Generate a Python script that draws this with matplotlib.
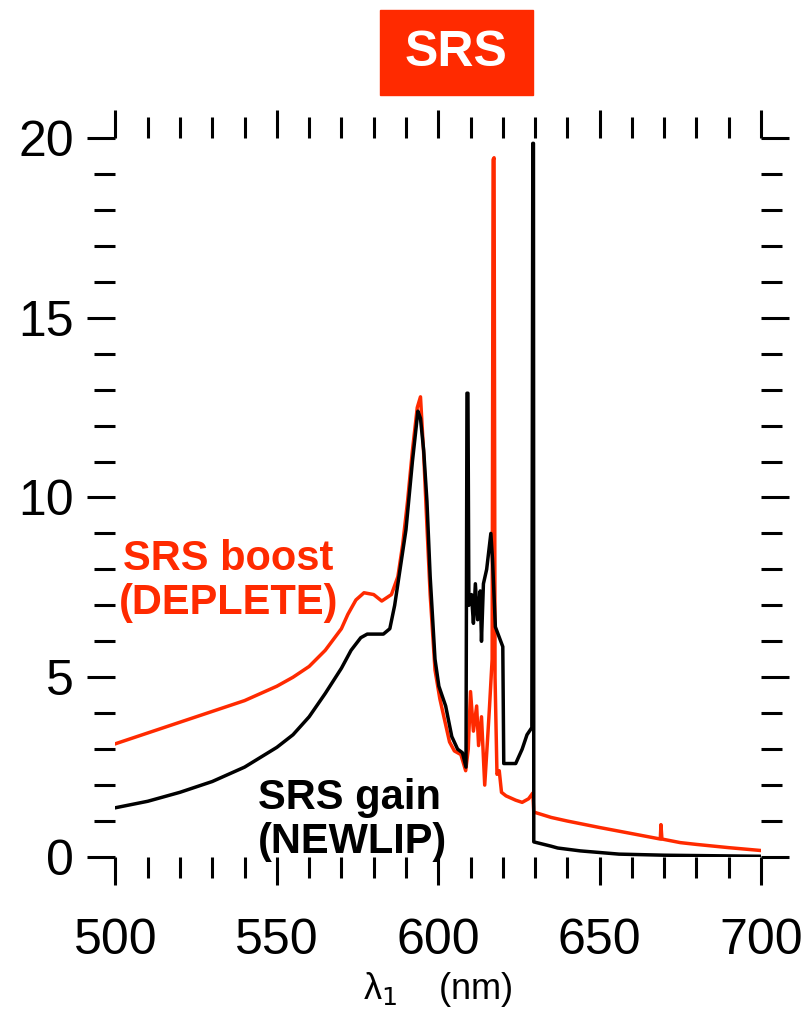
import numpy as np
import matplotlib.pyplot as plt
from matplotlib.patches import Rectangle
from matplotlib.ticker import MultipleLocator

plt.rcParams['font.family'] = ['Liberation Sans', 'DejaVu Sans']

RED = '#ff2a00'

# SRS boost (DEPLETE)
deplete_wl = [500, 510, 520, 530, 540, 550, 555, 560, 565, 570, 572, 574.5, 577, 580,
              582.5, 585.5, 587.5, 589, 590.5, 592, 593.5, 594.5, 595.5, 596.5, 597.5,
              599, 600.5, 602, 603.5, 605, 607, 608.5, 609.3, 610, 610.9, 611.9, 612.5,
              613.4, 614.4, 615.3, 615.9, 616.7, 617.0, 617.3, 617.6, 618.2, 618.9, 619.6,
              621, 624, 626, 628, 629.3, 629.6, 635, 640, 650, 660, 668.8, 669, 669.3,
              675, 680, 690, 700]
deplete_val = [3.15, 3.45, 3.75, 4.05, 4.35, 4.75, 5.0, 5.3, 5.75, 6.35, 6.75, 7.15, 7.35, 7.3,
               7.12, 7.3, 7.8, 8.7, 9.9, 11.3, 12.5, 12.8, 11.2, 9.2, 7.3,
               5.2, 4.4, 3.8, 3.2, 2.95, 2.85, 2.4, 3.0, 4.6, 3.5, 4.2, 3.1,
               3.9, 2.0, 3.3, 4.2, 5.5, 19.4, 19.45, 5.0, 2.3, 2.4, 1.8,
               1.7, 1.58, 1.52, 1.62, 1.78, 1.25, 1.1, 1.0, 0.82, 0.65, 0.5, 0.9, 0.5,
               0.4, 0.35, 0.26, 0.18]

# SRS gain (NEWLIP)
newlip_wl = [500, 510, 520, 530, 540, 550, 555, 560, 565, 570, 573, 576, 578, 583, 585,
             586.5, 588, 590, 592, 593.7, 594.5, 595.5, 596.5, 597.5, 599, 600.2, 602.3,
             604.2, 606, 607.5, 608.6, 608.9, 609.2, 609.5, 610.3, 610.9, 611.5, 612.2,
             613, 613.4, 614, 615, 616.3, 616.8, 617.7, 620.0, 620.3, 624, 626, 627.5,
             629, 629.3, 629.5, 629.6, 635, 637, 644, 656, 670, 690, 700]
newlip_val = [1.37, 1.55, 1.8, 2.1, 2.5, 3.05, 3.4, 3.9, 4.55, 5.25, 5.75, 6.1, 6.2, 6.2, 6.35,
              7.0, 7.9, 9.1, 11.0, 12.4, 12.2, 11.3, 9.9, 7.8, 5.5, 4.75, 4.2,
              3.35, 3.0, 2.9, 2.5, 12.9, 12.9, 7.0, 7.3, 6.5, 7.6, 6.6,
              7.4, 6.0, 7.6, 8.0, 9.0, 8.3, 6.4, 5.85, 2.6, 2.6, 3.0, 3.4,
              3.6, 19.85, 19.85, 0.42, 0.3, 0.25, 0.17, 0.08, 0.05, 0.03, 0.02]

fig = plt.figure(figsize=(8.12, 10.13), dpi=100)
ax = fig.add_axes([0.1422, 0.154, 0.795, 0.7098])

ax.plot(deplete_wl, deplete_val, color=RED, lw=2.5)
ax.plot(newlip_wl, newlip_val, color='black', lw=2.5)

ax.set_xlim(500, 700)
ax.set_ylim(0, 20)
ax.xaxis.set_major_locator(MultipleLocator(50))
ax.xaxis.set_minor_locator(MultipleLocator(10))
ax.yaxis.set_major_locator(MultipleLocator(5))
ax.yaxis.set_minor_locator(MultipleLocator(1))

for s in ax.spines.values():
    s.set_visible(False)

ax.tick_params(which='both', direction='out', top=True, right=True, width=2.2)
ax.tick_params(which='major', length=20, labelsize=36)
ax.tick_params(which='minor', length=15)
ax.tick_params(axis='x', which='major', pad=24)
ax.tick_params(axis='y', which='major', pad=10)

ax.set_xlabel('λ$_1$    (nm)', fontsize=26, labelpad=4)

# title box
fig.patches.append(Rectangle((0.468, 0.906), 0.188, 0.084, transform=fig.transFigure,
                             color=RED, zorder=0))
fig.text(0.5615, 0.948, 'SRS', ha='center', va='center', color='white',
         fontsize=36, fontweight='bold')

fig.text(0.281, 0.4265, 'SRS boost\n(DEPLETE)', ha='center', va='center', color=RED,
         fontsize=30, fontweight='bold', linespacing=1.15)
fig.text(0.318, 0.1905, 'SRS gain\n(NEWLIP)', ha='left', va='center', color='black',
         fontsize=30, fontweight='bold', linespacing=1.15)

fig.savefig('out.png', dpi=100)
